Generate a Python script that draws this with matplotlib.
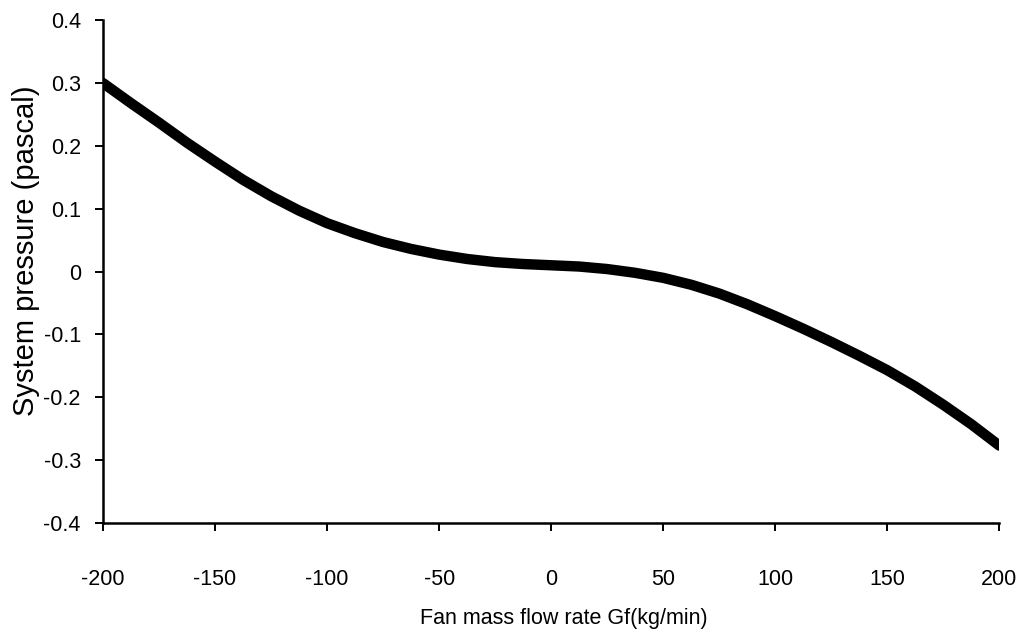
import matplotlib.pyplot as plt

plt.rcParams['font.family'] = ['Liberation Sans', 'DejaVu Sans']

# values (kg/min, pascal)
flow = [-200, -187.5, -175, -162.5, -150, -137.5, -125, -112.5, -100, -87.5, -75, -62.5, -50,
        -37.5, -25, -12.5, 0, 12.5, 25, 37.5, 50, 62.5, 75, 87.5, 100, 112.5, 125, 137.5,
        150, 162.5, 175, 187.5, 200]
pressure = [0.300, 0.268, 0.237, 0.205, 0.175, 0.146, 0.120, 0.097, 0.077, 0.061, 0.047, 0.036,
            0.027, 0.020, 0.015, 0.012, 0.010, 0.008, 0.004, -0.002, -0.010, -0.021, -0.035,
            -0.052, -0.071, -0.091, -0.112, -0.134, -0.157, -0.183, -0.212, -0.243, -0.277]

xticks = [-200, -150, -100, -50, 0, 50, 100, 150, 200]
yticks = [-0.4, -0.3, -0.2, -0.1, 0, 0.1, 0.2, 0.3, 0.4]
ylabels = ['-0.4', '-0.3', '-0.2', '-0.1', '0', '0.1', '0.2', '0.3', '0.4']

fig = plt.figure(figsize=(10.22, 6.33), dpi=100)
ax = fig.add_axes([0.1008, 0.174, 0.877, 0.794])

ax.plot(flow, pressure, color='black', linewidth=7.5, solid_capstyle='round', solid_joinstyle='round')

ax.set_xlim(-200, 200)
ax.set_ylim(-0.4, 0.4)
ax.set_xticks(xticks)
ax.set_xticklabels([str(t) for t in xticks])
ax.set_yticks(yticks)
ax.set_yticklabels(ylabels)

for s in ['top', 'right']:
    ax.spines[s].set_visible(False)
for s in ['left', 'bottom']:
    ax.spines[s].set_linewidth(1.8)
    ax.spines[s].set_color('black')

ax.tick_params(axis='x', direction='out', length=6, width=1.4, pad=27, labelsize=15.5)
ax.tick_params(axis='y', direction='out', length=6, width=1.4, pad=10, labelsize=15.5)

ax.set_xlabel("Fan mass flow rate Gf(kg/min)", fontsize=15.5)
ax.xaxis.set_label_coords(0.514, -0.170)
ax.set_ylabel("System pressure (pascal)", fontsize=21)
ax.yaxis.set_label_coords(-0.070, 0.541)

plt.savefig('out.png', dpi=100)
